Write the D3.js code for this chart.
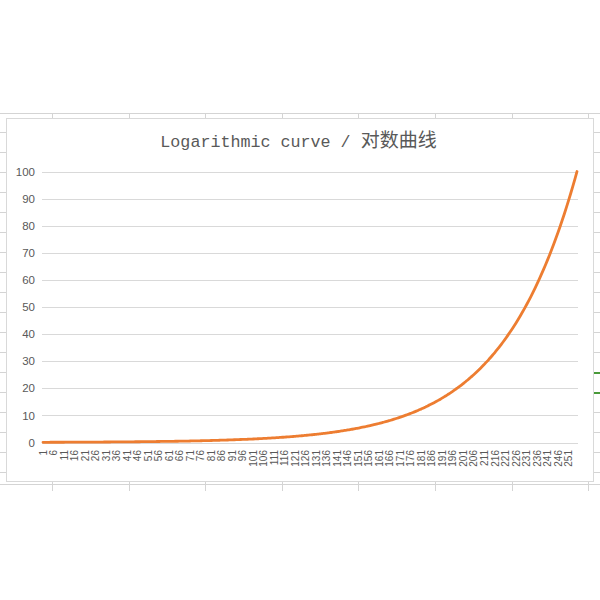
<!doctype html>
<html lang="zh">
   <head>
      <meta charset="utf-8">
      <title>Logarithmic curve</title>
      <script src="https://cdn.jsdelivr.net/npm/d3@7"></script>
      <style>
         body { margin: 0; background: #fff; }
         svg { display: block; }
         .ylab { font-family: "Liberation Sans", Arial, sans-serif; font-size: 11.5px; fill: #595959; text-anchor: end; }
         .xlab { font-family: "Liberation Sans", Arial, sans-serif; font-size: 10px; fill: #595959; text-anchor: end; }
         .grid { stroke: #d9d9d9; stroke-width: 1px; shape-rendering: crispEdges; }
         .sheet { stroke: #d4d4d4; stroke-width: 1px; shape-rendering: crispEdges; }
      </style>
   </head>
   <body>
      <svg width="600" height="600"></svg>
      <script>
         // categories 1..255, label every 5th
         var categories = d3.range(1, 256);
         var xTickLabels = categories.filter(d => (d - 1) % 5 === 0);
         var yTicks = [0, 10, 20, 30, 40, 50, 60, 70, 80, 90, 100];
         var titleLatin = "Logarithmic curve / ";
         var titleCJK = "对数曲线";
         // values, category 1 .. 255
         var values = [
           0.08, 0.08, 0.08, 0.08, 0.09,
           0.09, 0.09, 0.09, 0.10, 0.10, 0.10, 0.11, 0.11, 0.11, 0.11,
           0.12, 0.12, 0.13, 0.13, 0.13, 0.14, 0.14, 0.14, 0.15, 0.15,
           0.16, 0.16, 0.17, 0.17, 0.18, 0.18, 0.19, 0.19, 0.20, 0.20,
           0.21, 0.21, 0.22, 0.23, 0.23, 0.24, 0.25, 0.25, 0.26, 0.27,
           0.28, 0.28, 0.29, 0.30, 0.31, 0.32, 0.33, 0.34, 0.35, 0.36,
           0.37, 0.38, 0.39, 0.40, 0.41, 0.42, 0.43, 0.45, 0.46, 0.47,
           0.48, 0.50, 0.51, 0.53, 0.54, 0.56, 0.57, 0.59, 0.61, 0.62,
           0.64, 0.66, 0.68, 0.70, 0.72, 0.74, 0.76, 0.78, 0.80, 0.83,
           0.85, 0.88, 0.90, 0.93, 0.95, 0.98, 1.01, 1.04, 1.07, 1.10,
           1.13, 1.16, 1.19, 1.23, 1.26, 1.30, 1.34, 1.38, 1.41, 1.46,
           1.50, 1.54, 1.58, 1.63, 1.68, 1.72, 1.77, 1.82, 1.88, 1.93,
           1.98, 2.04, 2.10, 2.16, 2.22, 2.29, 2.35, 2.42, 2.49, 2.56,
           2.63, 2.71, 2.78, 2.86, 2.95, 3.03, 3.12, 3.21, 3.30, 3.39,
           3.49, 3.59, 3.69, 3.80, 3.90, 4.02, 4.13, 4.25, 4.37, 4.50,
           4.62, 4.76, 4.89, 5.03, 5.18, 5.32, 5.48, 5.63, 5.79, 5.96,
           6.13, 6.31, 6.49, 6.67, 6.86, 7.06, 7.26, 7.47, 7.68, 7.90,
           8.13, 8.36, 8.60, 8.85, 9.10, 9.36, 9.63, 9.90, 10.19, 10.48,
           10.78, 11.08, 11.40, 11.73, 12.06, 12.41, 12.76, 13.13, 13.50, 13.89,
           14.29, 14.70, 15.12, 15.55, 15.99, 16.45, 16.92, 17.41, 17.90, 18.42,
           18.94, 19.48, 20.04, 20.61, 21.20, 21.81, 22.43, 23.08, 23.74, 24.41,
           25.11, 25.83, 26.57, 27.33, 28.11, 28.92, 29.74, 30.59, 31.47, 32.37,
           33.29, 34.25, 35.23, 36.23, 37.27, 38.34, 39.43, 40.56, 41.72, 42.91,
           44.14, 45.40, 46.70, 48.04, 49.41, 50.82, 52.28, 53.77, 55.31, 56.89,
           58.52, 60.19, 61.92, 63.69, 65.51, 67.38, 69.31, 71.29, 73.33, 75.43,
           77.58, 79.80, 82.09, 84.43, 86.85, 89.33, 91.89, 94.52, 97.22, 100.00
         ];

         var svg = d3.select("svg");

         // spreadsheet behind the chart (cell borders peeking out)
         var sheet = svg.append("g");
         sheet.append("line").attr("class", "sheet")
           .attr("x1", 0).attr("x2", 600).attr("y1", 113.5).attr("y2", 113.5);
         sheet.append("line").attr("class", "sheet")
           .attr("x1", 0).attr("x2", 600).attr("y1", 484.5).attr("y2", 484.5);
         d3.range(52, 600, 76.6).forEach(x => {
           sheet.append("line").attr("class", "sheet")
             .attr("x1", Math.round(x) + 0.5).attr("x2", Math.round(x) + 0.5).attr("y1", 113).attr("y2", 119);
           sheet.append("line").attr("class", "sheet")
             .attr("x1", Math.round(x) + 0.5).attr("x2", Math.round(x) + 0.5).attr("y1", 480).attr("y2", 491);
         });
         d3.range(132, 480, 20).forEach(y => {
           sheet.append("line").attr("class", "sheet")
             .attr("x1", 0).attr("x2", 6).attr("y1", y + 0.5).attr("y2", y + 0.5);
           sheet.append("line").attr("class", "sheet")
             .attr("x1", 593).attr("x2", 600).attr("y1", y + 0.5).attr("y2", y + 0.5);
         });
         // selected cell marker on the right edge
         [373, 393].forEach(y => {
           sheet.append("line")
             .attr("x1", 594).attr("x2", 600).attr("y1", y).attr("y2", y)
             .style("stroke", "#4a9a3a").style("stroke-width", "2px");
         });

         // chart area
         svg.append("rect")
           .attr("x", 6.5).attr("y", 118.5).attr("width", 587).attr("height", 363)
           .style("fill", "#fff").style("stroke", "#d9d9d9");

         var x = d3.scalePoint().domain(categories).range([43, 577]);
         var y = d3.scaleLinear().domain([0, 100]).range([442.5, 171.5]);

         svg.append("g").selectAll("line")
           .data(yTicks)
           .enter().append("line")
             .attr("class", "grid")
             .attr("x1", 42).attr("x2", 578)
             .attr("y1", d => Math.round(y(d)) + 0.5)
             .attr("y2", d => Math.round(y(d)) + 0.5);

         svg.append("g").selectAll("text")
           .data(yTicks)
           .enter().append("text")
             .attr("class", "ylab")
             .attr("x", 35)
             .attr("y", d => y(d))
             .attr("dy", "0.36em")
             .text(d => d);

         svg.append("g").selectAll("text")
           .data(xTickLabels)
           .enter().append("text")
             .attr("class", "xlab")
             .attr("transform", d => "translate(" + x(d) + ",450) rotate(-90)")
             .attr("dy", "0.35em")
             .text(d => d);

         var line = d3.line()
           .x((d, i) => x(categories[i]))
           .y(d => y(d))
           .curve(d3.curveMonotoneX);

         svg.append("path")
           .datum(values)
           .attr("d", line)
           .style("fill", "none")
           .style("stroke", "#ED7D31")
           .style("stroke-width", "2.8px")
           .style("stroke-linecap", "round");

         var title = svg.append("text")
           .attr("x", 298.5).attr("y", 147)
           .attr("text-anchor", "middle")
           .style("fill", "#595959");
         title.append("tspan")
           .style("font-family", "'Liberation Mono', 'DejaVu Sans Mono', monospace")
           .style("font-size", "16.7px")
           .style("white-space", "pre")
           .text(titleLatin);
         title.append("tspan")
           .style("font-family", "'Noto Sans CJK SC', sans-serif")
           .style("font-size", "19px")
           .text(titleCJK);
      </script>
   </body>
</html>
